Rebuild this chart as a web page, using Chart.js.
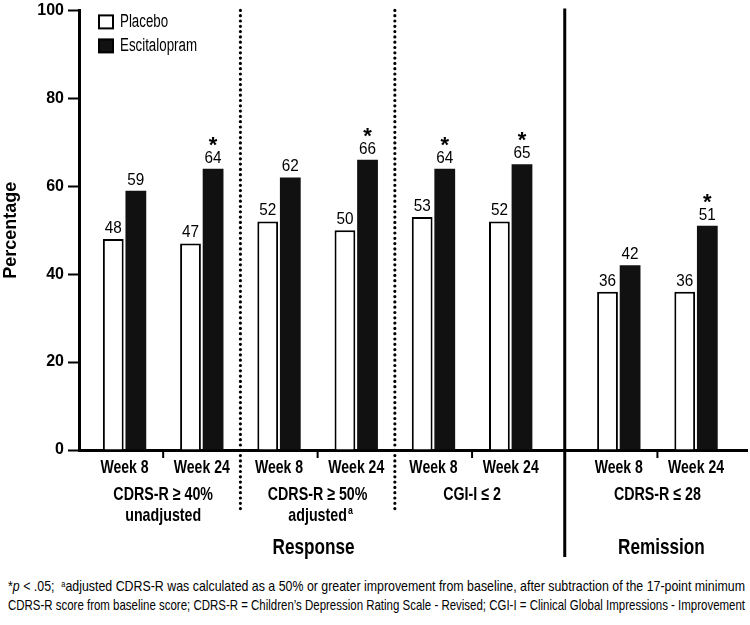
<!DOCTYPE html>
<html>
<head>
<meta charset="utf-8">
<script src="https://cdn.jsdelivr.net/npm/chart.js"></script>
<style>
  body { margin: 0; padding: 0; background: #fff; }
  #wrap { position: relative; width: 750px; height: 570px; }
  #note {
    position: absolute; left: 8px; top: 576px;
    font-family: 'Liberation Sans', Arial, sans-serif;
    font-size: 15px; line-height: 19px; color: #000; white-space: nowrap;
  }
  #note .line { transform-origin: 0 50%; width: max-content; }
  #note sup { font-size: 9px; vertical-align: 4px; line-height: 0; }
</style>
</head>
<body>
<div id="wrap"><canvas id="chart"></canvas></div>
<div id="note">
  <div class="line">*<i>p</i> &lt; .05;&nbsp; <sup>a</sup>adjusted CDRS-R was calculated as a 50% or greater improvement from baseline, after subtraction of the 17-point minimum</div>
  <div class="line">CDRS-R score from baseline score; CDRS-R = Children’s Depression Rating Scale - Revised; CGI-I = Clinical Global Impressions - Improvement</div>
</div>
<script>
// chart values
const weeks = ['Week 8', 'Week 24', 'Week 8', 'Week 24', 'Week 8', 'Week 24', 'Week 8', 'Week 24'];
const placebo = [48, 47, 52, 50, 53, 52, 36, 36];
const escitalopram = [59, 64, 62, 66, 64, 65, 42, 51];
const significant = [false, true, false, true, true, true, false, true];
const groupNames = [['CDRS-R ≥ 40%', 'unadjusted'], ['CDRS-R ≥ 50%', 'adjusted'], ['CGI-I ≤ 2'], ['CDRS-R ≤ 28']];
const groupMarks = ['', 'a', '', ''];
const sectionNames = ['Response', 'Remission'];

const FONT = "'Liberation Sans', Arial, sans-serif";
const GAP = 0.4; // extra space before the Remission group

// x position of each week on the linear axis
function xPos(i) {
  return i + (i >= 6 ? GAP : 0);
}

// condensed text: the original uses a narrow face, so squeeze horizontally
function drawText(ctx, str, x, y, font, sx, align, baseline) {
  ctx.save();
  ctx.font = font;
  ctx.textAlign = align || 'center';
  ctx.textBaseline = baseline || 'middle';
  ctx.translate(x, y);
  ctx.scale(sx, 1);
  ctx.fillText(str, 0, 0);
  const w = ctx.measureText(str).width * sx;
  ctx.restore();
  return w;
}

// Draws legend, separators, category text and value labels
const decorations = {
  id: 'decorations',
  afterDatasetsDraw(chart) {
    const ctx = chart.ctx;
    const x = chart.scales.x;
    const area = chart.chartArea;
    const base = area.bottom;
    ctx.save();
    ctx.fillStyle = '#000';
    ctx.strokeStyle = '#000';

    // values above bars, with asterisks for p < .05
    chart.data.datasets.forEach((ds, di) => {
      chart.getDatasetMeta(di).data.forEach((bar, i) => {
        drawText(ctx, String(ds.data[i].y), bar.x, bar.y - 6, '17px ' + FONT, 0.9, 'center', 'alphabetic');
        if (di === 1 && significant[i]) {
          drawText(ctx, '*', bar.x, bar.y - 17, 'bold 22px ' + FONT, 1, 'center', 'alphabetic');
        }
      });
    });

    // legend
    chart.data.datasets.forEach((ds, di) => {
      const bx = area.left + 20, by = area.top + 5 + di * 24;
      ctx.fillStyle = ds.backgroundColor;
      ctx.fillRect(bx, by, 14, 13);
      ctx.lineWidth = 2;
      ctx.strokeStyle = '#000';
      ctx.strokeRect(bx, by, 14, 13);
      ctx.fillStyle = '#000';
      drawText(ctx, ds.label, bx + 21, by + 7, '18px ' + FONT, 0.74, 'left', 'middle');
    });

    // dotted separators between response measures
    ctx.lineWidth = 3.2;
    ctx.lineCap = 'round';
    ctx.setLineDash([0, 5.3]);
    [1.5, 3.5].forEach(p => {
      const px = x.getPixelForValue(p);
      ctx.beginPath();
      ctx.moveTo(px, area.top);
      ctx.lineTo(px, base + 63);
      ctx.stroke();
    });
    ctx.setLineDash([]);
    ctx.lineCap = 'butt';

    // solid separator between Response and Remission
    const split = x.getPixelForValue((xPos(5) + xPos(6)) / 2);
    ctx.lineWidth = 3;
    ctx.beginPath();
    ctx.moveTo(split, area.top - 2);
    ctx.lineTo(split, base + 107);
    ctx.stroke();

    // small ticks inside each group + group names
    for (let g = 0; g < groupNames.length; g++) {
      const gx = x.getPixelForValue((xPos(g * 2) + xPos(g * 2 + 1)) / 2);
      ctx.lineWidth = 2;
      ctx.beginPath();
      ctx.moveTo(gx, base);
      ctx.lineTo(gx, base + 8);
      ctx.stroke();

      drawText(ctx, groupNames[g][0], gx, base + 45, 'bold 19px ' + FONT, 0.75);
      if (groupNames[g][1]) {
        const w = drawText(ctx, groupNames[g][1], gx, base + 66, 'bold 19px ' + FONT, 0.75);
        if (groupMarks[g]) {
          drawText(ctx, groupMarks[g], gx + w / 2 + 1, base + 61, 'bold 11px ' + FONT, 0.8, 'left');
        }
      }
    }

    // week labels
    weeks.forEach((w, i) => {
      drawText(ctx, w, x.getPixelForValue(xPos(i)), base + 18, 'bold 19px ' + FONT, 0.74);
    });

    // section names
    drawText(ctx, sectionNames[0], x.getPixelForValue((xPos(0) + xPos(5)) / 2) - 4, base + 98, 'bold 22px ' + FONT, 0.78);
    drawText(ctx, sectionNames[1], x.getPixelForValue((xPos(6) + xPos(7)) / 2) + 4, base + 98, 'bold 22px ' + FONT, 0.78);

    ctx.restore();
  }
};

new Chart(document.getElementById('chart'), {
  type: 'bar',
  data: {
    datasets: [
      {
        label: 'Placebo',
        data: placebo.map((v, i) => ({ x: xPos(i), y: v })),
        backgroundColor: '#fff',
        borderColor: '#000',
        borderWidth: 2,
        borderSkipped: 'bottom'
      },
      {
        label: 'Escitalopram',
        data: escitalopram.map((v, i) => ({ x: xPos(i), y: v })),
        backgroundColor: '#111',
        borderColor: '#111',
        borderWidth: 0
      }
    ]
  },
  options: {
    responsive: true,
    maintainAspectRatio: false,
    animation: false,
    categoryPercentage: 0.585,
    barPercentage: 0.92,
    layout: { padding: { top: 8, right: 3, left: 0, bottom: 0 } },
    plugins: {
      legend: { display: false },
      tooltip: { enabled: false }
    },
    scales: {
      x: {
        type: 'linear',
        offset: false,
        min: -0.59,
        max: 8.06,
        ticks: { display: false, stepSize: 1, includeBounds: false },
        grid: { display: false, offset: false },
        border: { display: true, color: '#000', width: 3 },
        afterFit: s => { s.height = 120; }
      },
      y: {
        min: 0,
        max: 100,
        ticks: {
          stepSize: 20,
          color: '#000',
          padding: 4,
          font: { family: FONT, size: 16, weight: 'bold', lineHeight: 0.8 }
        },
        grid: {
          display: true,
          drawOnChartArea: false,
          drawTicks: true,
          tickLength: 11,
          tickWidth: 2,
          tickColor: '#000'
        },
        border: { display: true, color: '#000', width: 3 },
        title: {
          display: true,
          text: 'Percentage',
          color: '#000',
          padding: { top: 0, bottom: 0 },
          font: { family: FONT, size: 18, weight: 'bold' }
        },
        afterFit: s => { s.width = 79; }
      }
    }
  },
  plugins: [decorations]
});

// squeeze each footnote line to the width of the figure
document.querySelectorAll('#note .line').forEach(el => {
  const w = el.getBoundingClientRect().width;
  el.style.transform = 'scaleX(' + (737 / w) + ')';
});
</script>
</body>
</html>
